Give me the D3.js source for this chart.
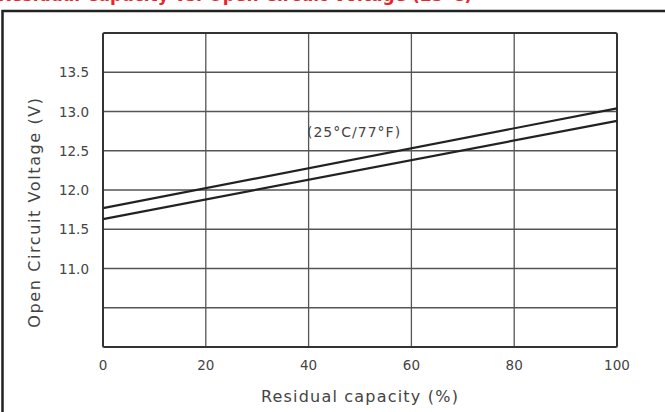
<!DOCTYPE html>
<html>
<head>
<meta charset="utf-8">
<script src="https://cdn.jsdelivr.net/npm/d3@7"></script>
<style>
  body { margin: 0; background: #fff; }
  svg { display: block; }
</style>
</head>
<body>
<script>
// residual capacity vs open circuit voltage
const capacity = [0, 100]
const upperV = [11.77, 13.04]
const lowerV = [11.63, 12.88]
const xTicks = [0, 20, 40, 60, 80, 100]
const yGrid = [10.5, 11.0, 11.5, 12.0, 12.5, 13.0, 13.5]
const yLabels = [11.0, 11.5, 12.0, 12.5, 13.0, 13.5]

const width = 665, height = 412
const margin = {top: 33, right: 48, bottom: 65, left: 103}
const font = "DejaVu Sans, sans-serif"

const svg = d3.select("body").append("svg")
    .attr("width", width)
    .attr("height", height)

// red title, cut off by the top edge as in the picture
svg.append("text")
    .attr("x", -2)
    .attr("y", 0.5)
    .attr("fill", "#e8252b")
    .attr("font-family", font)
    .attr("font-weight", "bold")
    .attr("font-size", 17)
    .text("Residual Capacity vs. Open Circuit Voltage (25°C)")

// outer frame
svg.append("rect")
    .attr("x", 2.5)
    .attr("y", 11)
    .attr("width", 700)
    .attr("height", 420)
    .attr("fill", "none")
    .attr("stroke", "#222")
    .attr("stroke-width", 2.5)

const x = d3.scaleLinear().domain([0, 100]).range([margin.left, width - margin.right])
const y = d3.scaleLinear().domain([10, 14]).range([height - margin.bottom, margin.top])

// grid
svg.append("g")
    .attr("stroke", "#555")
    .attr("stroke-width", 1.3)
  .selectAll("line.h")
  .data(yGrid)
  .join("line")
    .attr("x1", x(0)).attr("x2", x(100))
    .attr("y1", d => y(d)).attr("y2", d => y(d))

svg.append("g")
    .attr("stroke", "#555")
    .attr("stroke-width", 1.3)
  .selectAll("line.v")
  .data(xTicks.slice(1, -1))
  .join("line")
    .attr("x1", d => x(d)).attr("x2", d => x(d))
    .attr("y1", y(10)).attr("y2", y(14))

svg.append("rect")
    .attr("x", x(0))
    .attr("y", y(14))
    .attr("width", x(100) - x(0))
    .attr("height", y(10) - y(14))
    .attr("rx", 1.5)
    .attr("fill", "none")
    .attr("stroke", "#333")
    .attr("stroke-width", 2)

// tick labels
svg.append("g")
    .attr("font-family", font)
    .attr("font-size", 13.5)
    .attr("fill", "#444")
    .attr("text-anchor", "middle")
  .selectAll("text")
  .data(xTicks)
  .join("text")
    .attr("x", d => x(d))
    .attr("y", 370)
    .text(d => d)

svg.append("g")
    .attr("font-family", font)
    .attr("font-size", 13.5)
    .attr("fill", "#444")
    .attr("text-anchor", "end")
  .selectAll("text")
  .data(yLabels)
  .join("text")
    .attr("x", 89)
    .attr("y", d => y(d) + 5)
    .text(d => d.toFixed(1))

// axis titles
svg.append("text")
    .attr("x", x(50))
    .attr("y", 402)
    .attr("text-anchor", "middle")
    .attr("font-family", font)
    .attr("font-size", 16)
    .attr("letter-spacing", 1.2)
    .attr("fill", "#444")
    .text("Residual capacity (%)")

svg.append("text")
    .attr("transform", `translate(40,212) rotate(-90)`)
    .attr("text-anchor", "middle")
    .attr("font-family", font)
    .attr("font-size", 16)
    .attr("letter-spacing", 1.6)
    .attr("fill", "#444")
    .text("Open Circuit Voltage (V)")

// the two lines
const line = d3.line()
    .x((d, i) => x(capacity[i]))
    .y(d => y(d))

svg.append("g")
    .attr("fill", "none")
    .attr("stroke", "#222")
    .attr("stroke-width", 2.2)
  .selectAll("path")
  .data([upperV, lowerV])
  .join("path")
    .attr("d", line)

svg.append("text")
    .attr("x", 307)
    .attr("y", 137)
    .attr("font-family", font)
    .attr("font-size", 14)
    .attr("letter-spacing", 1)
    .attr("fill", "#444")
    .text("(25°C/77°F)")
</script>
</body>
</html>
